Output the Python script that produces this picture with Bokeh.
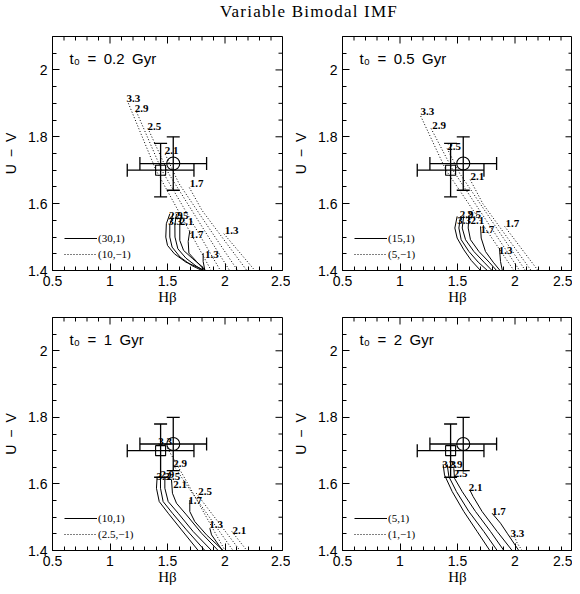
import math
from bokeh.plotting import figure
from bokeh.models import (ColumnDataSource, Whisker, TeeHead, FixedTicker,
                          Legend, LegendItem, CustomJSTickFormatter, Div, Range1d, Label)
from bokeh.layouts import column, row
from bokeh.core.properties import value
from bokeh.embed import file_html
from bokeh.resources import INLINE

# ---------------- data ----------------
TITLE = "Variable Bimodal IMF"
X_RANGE = (0.5, 2.5)
Y_RANGE = (1.4, 2.1)
X_TICKS = [0.5, 1.0, 1.5, 2.0, 2.5]
X_MINOR = [0.6, 0.7, 0.8, 0.9, 1.1, 1.2, 1.3, 1.4, 1.6, 1.7, 1.8, 1.9, 2.1, 2.2, 2.3, 2.4]
Y_TICKS = [1.4, 1.6, 1.8, 2.0]
Y_MINOR = [1.45, 1.5, 1.55, 1.65, 1.7, 1.75, 1.85, 1.9, 1.95, 2.05]
X_LABEL = "Hβ"
Y_LABEL = "U\u2002−\u2002V"

# observed points (circle, square) with errors
OBS_X = [1.55, 1.44]
OBS_Y = [1.72, 1.70]
OBS_XERR = [0.29, 0.29]
OBS_YERR = [0.08, 0.08]
OBS_MARKER = ["circle", "square"]

T0_LABELS = ["t₀\u2002=\u20020.2\u2002Gyr", "t₀\u2002=\u20020.5\u2002Gyr",
             "t₀\u2002=\u20021\u2002Gyr", "t₀\u2002=\u20022\u2002Gyr"]
LEG_SOLID = ["(30,1)", "(15,1)", "(10,1)", "(5,1)"]
LEG_DOTTED = ["(10,−1)", "(5,−1)", "(2.5,−1)", "(1,−1)"]

# --- panel t0 = 0.2 Gyr ---
SOLID_02 = {
    "3.3": ([1.52, 1.49, 1.485, 1.50, 1.56, 1.66, 1.76, 1.82], [1.569, 1.54, 1.50, 1.475, 1.45, 1.425, 1.41, 1.40]),
    "2.9": ([1.549, 1.52, 1.52, 1.54, 1.61, 1.71, 1.80], [1.569, 1.537, 1.50, 1.47, 1.44, 1.415, 1.40]),
    "2.5": ([1.578, 1.564, 1.565, 1.59, 1.66, 1.75, 1.815], [1.569, 1.537, 1.50, 1.465, 1.437, 1.413, 1.40]),
    "2.1": ([1.622, 1.607, 1.607, 1.64, 1.72, 1.80, 1.83], [1.567, 1.537, 1.49, 1.46, 1.435, 1.412, 1.40]),
    "1.7": ([1.694, 1.68, 1.686, 1.752, 1.825], [1.519, 1.487, 1.452, 1.427, 1.40]),
    "1.3": ([1.81, 1.81, 1.825], [1.452, 1.427, 1.40]),
}
SOLID_LBL_02 = {"3.3": (1.506, 1.547), "2.9": (1.512, 1.564), "2.5": (1.564, 1.564),
                "2.1": (1.607, 1.547), "1.7": (1.694, 1.509), "1.3": (1.825, 1.447)}
DOTTED_02 = {
    "3.3": ([1.16, 1.40, 1.88], [1.90, 1.70, 1.40]),
    "2.9": ([1.23, 1.45, 1.96], [1.875, 1.70, 1.40]),
    "2.5": ([1.33, 1.51, 2.04], [1.825, 1.69, 1.40]),
    "2.1": ([1.48, 1.60, 2.11], [1.748, 1.66, 1.40]),
    "1.7": ([1.69, 1.80, 2.19], [1.648, 1.58, 1.40]),
    "1.3": ([1.99, 2.26], [1.51, 1.40]),
}
DOTTED_LBL_02 = {"3.3": (1.143, 1.915), "2.9": (1.216, 1.885), "2.5": (1.326, 1.832),
                 "2.1": (1.477, 1.759), "1.7": (1.694, 1.659), "1.3": (1.998, 1.52)}

# --- panel t0 = 0.5 Gyr ---
SOLID_05 = {
    "3.3": ([1.497, 1.477, 1.497, 1.555, 1.62, 1.70], [1.562, 1.527, 1.497, 1.462, 1.43, 1.40]),
    "2.9": ([1.526, 1.512, 1.532, 1.599, 1.68, 1.76], [1.562, 1.527, 1.492, 1.457, 1.425, 1.40]),
    "2.5": ([1.555, 1.541, 1.57, 1.642, 1.73, 1.80], [1.565, 1.527, 1.492, 1.457, 1.425, 1.40]),
    "2.1": ([1.599, 1.593, 1.613, 1.686, 1.775, 1.84], [1.565, 1.527, 1.492, 1.457, 1.425, 1.40]),
    "1.7": ([1.70, 1.706, 1.743, 1.81, 1.87], [1.532, 1.497, 1.457, 1.425, 1.40]),
    "1.3": ([1.865, 1.874, 1.89], [1.467, 1.427, 1.40]),
}
SOLID_LBL_05 = {"3.3": (1.497, 1.549), "2.9": (1.52, 1.569), "2.5": (1.584, 1.567),
                "2.1": (1.613, 1.549), "1.7": (1.70, 1.522), "1.3": (1.859, 1.459)}
DOTTED_05 = {
    "3.3": ([1.18, 1.40, 1.99], [1.862, 1.70, 1.40]),
    "2.9": ([1.27, 1.46, 2.04], [1.825, 1.70, 1.40]),
    "2.5": ([1.41, 1.52, 2.09], [1.765, 1.69, 1.40]),
    "2.1": ([1.61, 1.72, 2.14], [1.672, 1.60, 1.40]),
    "1.7": ([1.91, 2.20], [1.532, 1.40]),
}
DOTTED_LBL_05 = {"3.3": (1.178, 1.875), "2.9": (1.28, 1.834), "2.5": (1.41, 1.772),
                 "2.1": (1.613, 1.682), "1.7": (1.917, 1.542)}

# --- panel t0 = 1 Gyr ---
SOLID_1 = {
    "3.3": ([1.410, 1.404, 1.428, 1.506, 1.622, 1.767], [1.622, 1.587, 1.547, 1.512, 1.462, 1.40]),
    "2.9": ([1.439, 1.439, 1.462, 1.543, 1.665, 1.825], [1.622, 1.587, 1.547, 1.512, 1.462, 1.40]),
    "2.5": ([1.477, 1.477, 1.506, 1.593, 1.723, 1.883], [1.622, 1.587, 1.547, 1.512, 1.457, 1.40]),
    "2.1": ([1.535, 1.543, 1.578, 1.665, 1.796, 1.941], [1.612, 1.572, 1.542, 1.507, 1.452, 1.40]),
    "1.7": ([1.694, 1.694, 1.737, 1.839, 1.984], [1.552, 1.517, 1.487, 1.447, 1.40]),
    "1.3": ([1.868, 1.883, 1.978], [1.467, 1.447, 1.40]),
}
SOLID_LBL_1 = {"3.3": (1.404, 1.622), "2.9": (1.439, 1.629), "2.5": (1.491, 1.622),
               "2.1": (1.549, 1.597), "1.7": (1.68, 1.549), "1.3": (1.862, 1.477)}
DOTTED_1 = {
    "3.3": ([1.50, 1.65, 2.00], [1.707, 1.617, 1.40]),
    "2.9": ([1.55, 1.70, 2.07], [1.657, 1.58, 1.40]),
    "2.5": ([1.75, 2.13], [1.572, 1.40]),
    "2.1": ([2.06, 2.19], [1.457, 1.40]),
}
DOTTED_LBL_1 = {"3.3": (1.419, 1.727), "2.9": (1.549, 1.662), "2.5": (1.767, 1.577),
                "2.1": (2.065, 1.459)}

# --- panel t0 = 2 Gyr ---
SOLID_2 = {
    "3.3": ([1.375, 1.387, 1.454, 1.555, 1.671, 1.781], [1.659, 1.627, 1.577, 1.517, 1.457, 1.40]),
    "2.9": ([1.410, 1.425, 1.491, 1.599, 1.729, 1.845], [1.659, 1.622, 1.577, 1.517, 1.457, 1.40]),
    "2.5": ([1.468, 1.474, 1.541, 1.657, 1.787, 1.903], [1.647, 1.617, 1.577, 1.517, 1.457, 1.40]),
    "2.1": ([1.607, 1.636, 1.714, 1.845, 1.975], [1.582, 1.562, 1.517, 1.457, 1.40]),
    "1.7": ([1.801, 1.874, 1.932, 2.033], [1.512, 1.482, 1.452, 1.40]),
}
SOLID_LBL_2 = {"3.3": (1.367, 1.659), "2.9": (1.424, 1.659), "2.5": (1.468, 1.632),
               "2.1": (1.598, 1.589), "1.7": (1.801, 1.516)}
DOTTED_2 = {
    "3.3": ([1.996, 2.019, 2.062], [1.442, 1.422, 1.40]),
}
DOTTED_LBL_2 = {"3.3": (1.961, 1.452)}

PANELS = [
    (SOLID_02, SOLID_LBL_02, DOTTED_02, DOTTED_LBL_02),
    (SOLID_05, SOLID_LBL_05, DOTTED_05, DOTTED_LBL_05),
    (SOLID_1, SOLID_LBL_1, DOTTED_1, DOTTED_LBL_1),
    (SOLID_2, SOLID_LBL_2, DOTTED_2, DOTTED_LBL_2),
]

# ---------------- drawing ----------------
SANS = "Liberation Sans"
SERIF = "Liberation Serif"
FMT = CustomJSTickFormatter(code="return String(Math.round(tick*100)/100);")


def style_axis(ax):
    ax.major_tick_in = 7
    ax.major_tick_out = 0
    ax.minor_tick_in = 4
    ax.minor_tick_out = 0
    ax.axis_line_color = "black"
    ax.major_tick_line_color = "black"
    ax.minor_tick_line_color = "black"
    ax.major_label_text_font = SANS
    ax.major_label_text_font_size = "14px"
    ax.major_label_text_color = "black"
    ax.major_label_standoff = 5
    ax.formatter = FMT
    ax.axis_label_text_color = "black"
    ax.axis_label_text_font_style = "normal"


def make_panel(idx, bl, br, bt, bb, fw, fh):
    solid, solid_lbl, dotted, dotted_lbl = PANELS[idx]
    p = figure(frame_width=fw, frame_height=fh,
               x_range=Range1d(*X_RANGE), y_range=Range1d(*Y_RANGE),
               output_backend="svg", toolbar_location=None,
               min_border_left=bl, min_border_right=br, min_border_top=bt, min_border_bottom=bb,
               x_axis_label=X_LABEL, y_axis_label=Y_LABEL)
    p.grid.visible = False
    p.outline_line_color = "black"
    p.outline_line_width = 1
    p.background_fill_color = "white"
    p.border_fill_color = "white"

    p.xaxis[0].ticker = FixedTicker(ticks=X_TICKS, minor_ticks=X_MINOR)
    p.yaxis[0].ticker = FixedTicker(ticks=Y_TICKS, minor_ticks=Y_MINOR)
    style_axis(p.xaxis[0])
    style_axis(p.yaxis[0])
    p.xaxis[0].axis_label_text_font = SERIF
    p.xaxis[0].axis_label_text_font_size = "15px"
    p.xaxis[0].axis_label_standoff = 0
    p.yaxis[0].axis_label_text_font = SANS
    p.yaxis[0].axis_label_text_font_size = "14px"
    p.yaxis[0].axis_label_standoff = 6

    # mirrored inward ticks on the top and right edges
    p.ray(x=X_TICKS, y=[Y_RANGE[1]] * len(X_TICKS), length=7, length_units="screen",
          angle=-math.pi / 2, line_color="black", line_width=1)
    p.ray(x=X_MINOR, y=[Y_RANGE[1]] * len(X_MINOR), length=4, length_units="screen",
          angle=-math.pi / 2, line_color="black", line_width=1)
    p.ray(x=[X_RANGE[1]] * len(Y_TICKS), y=Y_TICKS, length=7, length_units="screen",
          angle=math.pi, line_color="black", line_width=1)
    p.ray(x=[X_RANGE[1]] * len(Y_MINOR), y=Y_MINOR, length=4, length_units="screen",
          angle=math.pi, line_color="black", line_width=1)

    # model curves
    first_solid = None
    for k, (xs, ys) in solid.items():
        r = p.line(xs, ys, line_color="black", line_width=1)
        if first_solid is None:
            first_solid = r
    first_dot = None
    for k, (xs, ys) in dotted.items():
        r = p.line(xs, ys, line_color="black", line_width=1, line_dash="1 2")
        if first_dot is None:
            first_dot = r

    lbl_keys = list(solid_lbl.keys()) + list(dotted_lbl.keys())
    lbl_pos = list(solid_lbl.values()) + list(dotted_lbl.values())
    lsrc = ColumnDataSource(dict(x=[v[0] for v in lbl_pos], y=[v[1] for v in lbl_pos], t=lbl_keys))
    p.text(x="x", y="y", text="t", source=lsrc, text_font=value(SERIF),
           text_font_size="11px", text_font_style="bold", text_color="black",
           text_align="left", text_baseline="middle")

    # observations
    osrc = ColumnDataSource(dict(
        x=OBS_X, y=OBS_Y, m=OBS_MARKER, s=[13, 10],
        xl=[a - b for a, b in zip(OBS_X, OBS_XERR)], xu=[a + b for a, b in zip(OBS_X, OBS_XERR)],
        yl=[a - b for a, b in zip(OBS_Y, OBS_YERR)], yu=[a + b for a, b in zip(OBS_Y, OBS_YERR)]))
    for dim, base, lo, up in (("height", "x", "yl", "yu"), ("width", "y", "xl", "xu")):
        p.add_layout(Whisker(source=osrc, base=base, lower=lo, upper=up, dimension=dim,
                             line_color="black", line_width=1.3,
                             lower_head=TeeHead(size=13, line_color="black", line_width=1.3),
                             upper_head=TeeHead(size=13, line_color="black", line_width=1.3)))
    p.scatter(x="x", y="y", marker="m", size="s", source=osrc, fill_color=None,
              line_color="black", line_width=1.1)

    p.add_layout(Label(x=17, y=fh - 22, x_units="screen", y_units="screen", text=T0_LABELS[idx],
                       text_font=SANS, text_font_size="15px", text_color="black",
                       text_baseline="middle"))

    leg = Legend(items=[LegendItem(label=LEG_SOLID[idx], renderers=[first_solid]),
                        LegendItem(label=LEG_DOTTED[idx], renderers=[first_dot])],
                 location=(12, 8), glyph_width=33, glyph_height=16, label_height=16,
                 label_standoff=1, spacing=0, padding=0, margin=0,
                 border_line_color=None, background_fill_alpha=0,
                 label_text_font=SERIF, label_text_font_size="11px", label_text_color="black")
    p.add_layout(leg)
    return p


p1 = make_panel(0, 48, 8, 7, 40, 230, 234)
p2 = make_panel(1, 48, 0, 7, 40, 230, 234)
p3 = make_panel(2, 48, 8, 7, 37, 230, 233)
p4 = make_panel(3, 48, 0, 7, 37, 230, 233)

title = Div(text=('<div style="width:520px;margin-left:44px;text-align:center;margin-top:-4px;'
                  'font-family:\'Liberation Serif\';font-size:17px;letter-spacing:1.2px;'
                  'line-height:17px;color:black;white-space:nowrap;">' + TITLE + '</div>'),
            width=564, height=19)

layout = column(title, row(p1, p2), row(p3, p4))
open("out.html", "w").write(file_html(layout, INLINE))
